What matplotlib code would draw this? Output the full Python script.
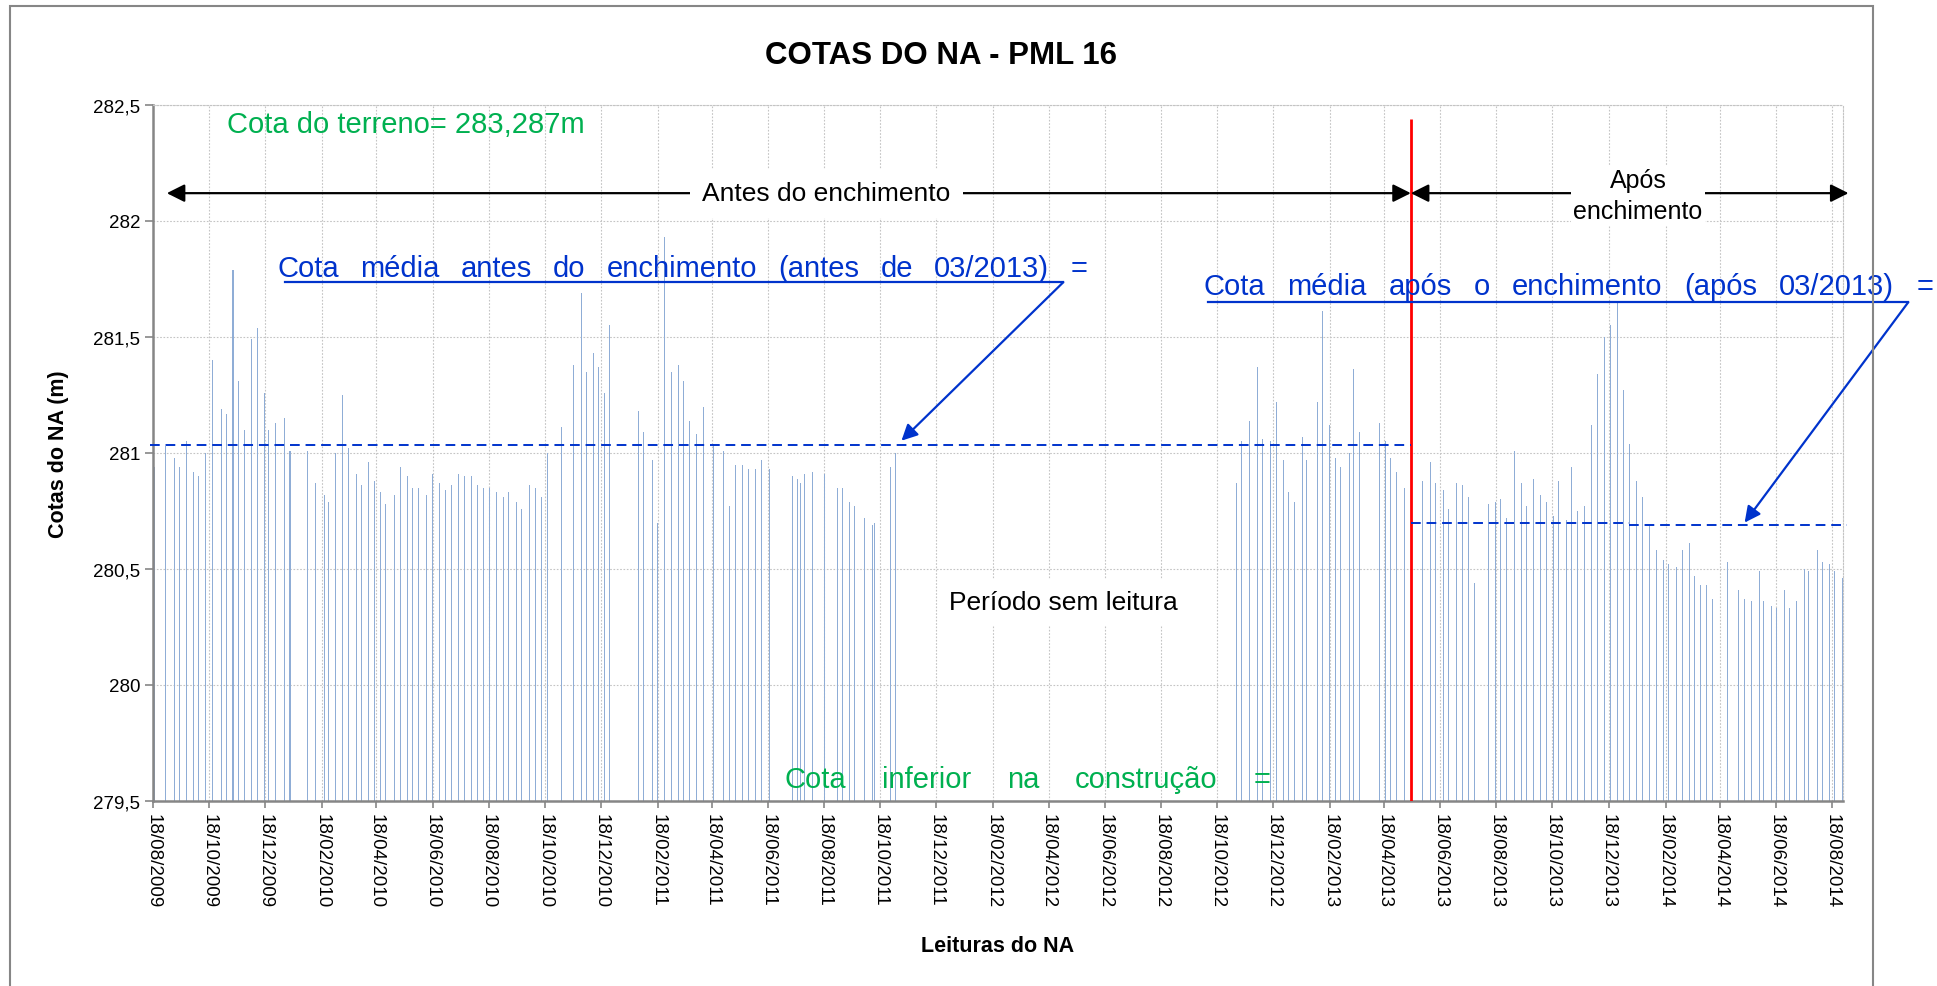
import matplotlib
matplotlib.use("Agg")
import matplotlib.pyplot as plt
import matplotlib.dates as mdates
from matplotlib.patches import Rectangle
import numpy as np
import pandas as pd

plt.rcParams['font.family'] = ['Liberation Sans', 'DejaVu Sans']

# leituras antes do enchimento (2009 - 2011)
datas_antes = [
    '2009-08-20', '2009-09-01', '2009-09-10', '2009-09-16', '2009-09-23', '2009-10-01',
    '2009-10-07', '2009-10-14', '2009-10-22', '2009-10-31', '2009-11-06', '2009-11-13',
    '2009-11-19', '2009-11-26', '2009-12-03', '2009-12-10', '2009-12-17', '2009-12-22',
    '2009-12-29', '2010-01-08', '2010-01-14', '2010-02-02', '2010-02-11', '2010-02-21',
    '2010-02-25', '2010-03-05', '2010-03-12', '2010-03-19', '2010-03-27', '2010-04-02',
    '2010-04-09', '2010-04-16', '2010-04-22', '2010-04-28', '2010-05-08', '2010-05-14',
    '2010-05-22', '2010-05-27', '2010-06-03', '2010-06-11', '2010-06-18', '2010-06-26',
    '2010-07-02', '2010-07-09', '2010-07-16', '2010-07-23', '2010-07-30', '2010-08-06',
    '2010-08-12', '2010-08-19', '2010-08-27', '2010-09-03', '2010-09-09', '2010-09-17',
    '2010-09-23', '2010-10-01', '2010-10-08', '2010-10-15', '2010-10-21', '2010-11-05',
    '2010-11-18', '2010-11-27', '2010-12-02', '2010-12-10', '2010-12-16', '2010-12-22',
    '2010-12-28', '2011-01-28', '2011-02-02', '2011-02-12', '2011-02-18', '2011-02-25',
    '2011-03-05', '2011-03-12', '2011-03-18', '2011-03-25', '2011-04-01', '2011-04-09',
    '2011-04-20', '2011-04-30', '2011-05-07', '2011-05-14', '2011-05-21', '2011-05-28',
    '2011-06-04', '2011-06-11', '2011-06-20', '2011-07-14', '2011-07-20', '2011-07-23',
    '2011-07-28', '2011-08-05', '2011-08-18', '2011-09-01', '2011-09-07', '2011-09-15',
    '2011-09-20', '2011-10-01', '2011-10-09', '2011-10-12', '2011-10-29', '2011-11-03',
]
cotas_antes = [
    280.94, 281.03, 280.98, 280.94, 281.05, 280.92,
    280.90, 281.00, 281.40, 281.19, 281.17, 281.79,
    281.31, 281.10, 281.49, 281.54, 281.26, 281.10,
    281.13, 281.15, 281.01, 281.01, 280.87, 280.82,
    280.79, 281.00, 281.25, 281.02, 280.91, 280.86,
    280.96, 280.88, 280.83, 280.78, 280.82, 280.94,
    280.90, 280.85, 280.85, 280.82, 280.91, 280.87,
    280.84, 280.86, 280.91, 280.90, 280.90, 280.86,
    280.85, 280.85, 280.83, 280.81, 280.83, 280.79,
    280.76, 280.86, 280.85, 280.81, 281.00, 281.11,
    281.38, 281.69, 281.35, 281.43, 281.37, 281.26,
    281.55, 281.18, 281.09, 280.97, 280.70, 281.93,
    281.35, 281.38, 281.31, 281.14, 281.08, 281.20,
    281.04, 281.01, 280.77, 280.95, 280.95, 280.93,
    280.93, 280.97, 280.93, 280.90, 280.89, 280.87,
    280.91, 280.92, 280.91, 280.85, 280.85, 280.79,
    280.77, 280.72, 280.69, 280.70, 280.94, 281.00,
]

# leituras a partir de 11/2012
datas_depois = [
    '2012-11-08', '2012-11-14', '2012-11-23', '2012-12-01', '2012-12-07', '2012-12-15',
    '2012-12-22', '2012-12-29', '2013-01-04', '2013-01-10', '2013-01-19', '2013-01-24',
    '2013-02-04', '2013-02-10', '2013-02-18', '2013-02-24', '2013-03-02', '2013-03-11',
    '2013-03-16', '2013-03-22', '2013-04-13', '2013-04-19', '2013-04-25', '2013-05-01',
    '2013-05-10', '2013-05-30', '2013-06-07', '2013-06-13', '2013-06-22', '2013-06-27',
    '2013-07-06', '2013-07-12', '2013-07-19', '2013-07-25', '2013-08-09', '2013-08-17',
    '2013-08-23', '2013-08-29', '2013-09-07', '2013-09-14', '2013-09-20', '2013-09-27',
    '2013-10-05', '2013-10-11', '2013-10-19', '2013-10-25', '2013-11-02', '2013-11-08',
    '2013-11-14', '2013-11-22', '2013-11-29', '2013-12-06', '2013-12-14', '2013-12-20',
    '2013-12-28', '2014-01-03', '2014-01-10', '2014-01-17', '2014-01-24', '2014-02-01',
    '2014-02-08', '2014-02-16', '2014-02-21', '2014-03-02', '2014-03-08', '2014-03-16',
    '2014-03-21', '2014-03-28', '2014-04-04', '2014-04-10', '2014-04-26', '2014-05-08',
    '2014-05-15', '2014-05-22', '2014-05-31', '2014-06-05', '2014-06-13', '2014-06-19',
    '2014-06-27', '2014-07-03', '2014-07-10', '2014-07-19', '2014-07-24', '2014-08-02',
    '2014-08-08', '2014-08-15', '2014-08-21', '2014-08-29',
]
cotas_depois = [
    280.87, 281.05, 281.14, 281.37, 281.06, 281.05,
    281.22, 280.97, 280.83, 280.79, 281.07, 280.97,
    281.22, 281.61, 281.12, 280.98, 280.94, 281.00,
    281.36, 281.09, 281.13, 281.05, 280.98, 280.92,
    280.85, 280.88, 280.96, 280.87, 280.84, 280.76,
    280.87, 280.86, 280.81, 280.44, 280.78, 280.79,
    280.80, 280.72, 281.01, 280.87, 280.77, 280.89,
    280.82, 280.79, 280.73, 280.88, 280.71, 280.94,
    280.75, 280.77, 281.12, 281.34, 281.50, 281.55,
    281.65, 281.27, 281.04, 280.88, 280.81, 280.69,
    280.58, 280.54, 280.52, 280.51, 280.58, 280.61,
    280.47, 280.43, 280.43, 280.37, 280.53, 280.41,
    280.37, 280.36, 280.49, 280.36, 280.34, 280.33,
    280.41, 280.33, 280.36, 280.50, 280.49, 280.58,
    280.53, 280.52, 280.49, 280.46,
]

data_enchimento = '2013-05-17'
media_antes = 281.035
media_apos = [280.70, 280.69]
y_base = 279.5
y_topo = 282.5
y_ticks = [279.5, 280, 280.5, 281, 281.5, 282, 282.5]
y_ticklabels = ['279,5', '280', '280,5', '281', '281,5', '282', '282,5']
x_ticks = pd.date_range('2009-08-18', '2014-08-18', freq=pd.DateOffset(months=2))
x_ticklabels = [t.strftime('%d/%m/%Y') for t in x_ticks]

AZUL = '#0033CC'
VERDE = '#00B050'
CINZA = '#868686'


def d(s):
    return mdates.date2num(pd.Timestamp(s))


def justify(ax, words, x0, x1, y, **kw):
    # distribui as palavras entre x0 e x1 (texto justificado)
    r = ax.figure.canvas.get_renderer()
    px0 = ax.transData.transform((d(x0), y))[0]
    px1 = ax.transData.transform((d(x1), y))[0]
    texts = [ax.text(d(x0), y, w, ha='left', clip_on=False, **kw) for w in words]
    widths = [t.get_window_extent(r).width for t in texts]
    gap = (px1 - px0 - sum(widths)) / (len(words) - 1)
    pos = px0
    inv = ax.transData.inverted()
    for t, w in zip(texts, widths):
        t.set_x(inv.transform((pos, y))[0])
        pos += w + gap


fig = plt.figure(figsize=(19.37, 9.87), dpi=100)
ax = fig.add_axes([153 / 1937, 1 - 802 / 987, 1690 / 1937, 696 / 987])

datas = pd.to_datetime(datas_antes + datas_depois)
cotas = np.array(cotas_antes + cotas_depois)
ax.bar(datas, cotas - y_base, bottom=y_base, width=1.1, color='#8FADD6',
       linewidth=0, zorder=2)

ax.set_xlim(pd.Timestamp('2009-08-18'), pd.Timestamp('2014-08-30'))
ax.set_ylim(y_base, y_topo)

ax.set_yticks(y_ticks)
ax.set_yticklabels(y_ticklabels)
ax.set_xticks(x_ticks)
ax.set_xticklabels(x_ticklabels, rotation=-90, ha='center', va='top')
ax.tick_params(axis='y', direction='out', length=6, width=1.2, color=CINZA,
               labelsize=13.5, pad=3)
ax.tick_params(axis='x', direction='out', length=5, width=1.2, color=CINZA,
               labelsize=13.5, pad=4)

ax.grid(True, color='#C4C4C4', linestyle=(0, (1.5, 1.5)), linewidth=0.8)
ax.set_axisbelow(True)
for s in ('left', 'bottom'):
    ax.spines[s].set_color(CINZA)
    ax.spines[s].set_linewidth(1.8)
for s in ('top', 'right'):
    ax.spines[s].set_color('#C4C4C4')
    ax.spines[s].set_linestyle((0, (1.5, 1.5)))
    ax.spines[s].set_linewidth(0.8)

ax.set_ylabel('Cotas do NA (m)', fontsize=15.5, fontweight='bold', va='center')
ax.yaxis.set_label_coords(-0.0562, 0.5)
ax.set_xlabel('Leituras do NA', fontsize=15.5, fontweight='bold', va='center')
ax.xaxis.set_label_coords(0.5, -0.207)

fig.text(941 / 1937, 1 - 56 / 987, 'COTAS DO NA - PML 16', ha='center', va='center',
         fontsize=22.5, fontweight='bold')

# borda da area do grafico
fig.add_artist(Rectangle((10 / 1937, -0.02), 1863 / 1937, 1.02 - 7 / 987,
                         transform=fig.transFigure, fill=False, edgecolor=CINZA, lw=1.5))

# linha do enchimento e medias
ax.vlines(d(data_enchimento), y_base, 282.44, color='red', lw=2, zorder=4)
ax.plot([d('2009-08-15'), d(data_enchimento)], [media_antes, media_antes], color=AZUL,
        lw=1.4, ls=(0, (5, 3)), zorder=4, clip_on=False)
ax.plot([d(data_enchimento), d('2014-01-09')], [media_apos[0], media_apos[0]], color=AZUL,
        lw=1.4, ls=(0, (5, 3)), zorder=4)
ax.plot([d('2014-01-09'), d('2014-09-03')], [media_apos[1], media_apos[1]], color=AZUL,
        lw=1.4, ls=(0, (5, 3)), zorder=4, clip_on=False)

# setas antes / apos
seta = dict(arrowstyle='<|-|>,head_length=0.4,head_width=0.2', color='black', lw=1.6,
            mutation_scale=27, shrinkA=0, shrinkB=0)
ax.annotate('', xy=(d('2009-09-02'), 282.12), xytext=(d(data_enchimento), 282.12),
            arrowprops=seta, annotation_clip=False, zorder=4)
ax.annotate('', xy=(d(data_enchimento), 282.12), xytext=(d('2014-09-05'), 282.12),
            arrowprops=seta, annotation_clip=False, zorder=4)
ax.text(d('2011-08-20'), 282.12, 'Antes do enchimento', ha='center', va='center',
        fontsize=19, zorder=5, bbox=dict(facecolor='white', edgecolor='none', pad=9))
ax.text(d('2014-01-19'), 282.11, 'Após\nenchimento', ha='center', va='center',
        fontsize=18, linespacing=1.35, zorder=5,
        bbox=dict(facecolor='white', edgecolor='none', pad=2))

ax.text(d('2009-11-06'), 282.42, 'Cota do terreno= 283,287m', ha='left', va='center',
        fontsize=21, color=VERDE, zorder=5)

# media antes
justify(ax, 'Cota média antes do enchimento (antes de 03/2013) ='.split(),
        '2009-12-31', '2012-05-30', 281.763, fontsize=21, color=AZUL, va='baseline', zorder=5)
ax.plot([d('2010-01-09'), d('2012-05-04')], [281.736, 281.736], color=AZUL, lw=1.6, zorder=5)
ax.annotate('', xy=(d('2011-11-10'), 281.053), xytext=(d('2012-05-04'), 281.736),
            arrowprops=dict(arrowstyle='-|>,head_length=0.4,head_width=0.2', color=AZUL,
                            lw=1.6, mutation_scale=24, shrinkA=0, shrinkB=0), zorder=5)

# media apos
justify(ax, 'Cota média após o enchimento (após 03/2013) ='.split(),
        '2012-10-04', '2014-12-06', 281.685, fontsize=21, color=AZUL, va='baseline', zorder=5)
ax.plot([d('2012-10-08'), d('2014-11-09')], [281.65, 281.65], color=AZUL, lw=1.6,
        zorder=5, clip_on=False)
ax.annotate('', xy=(d('2014-05-15'), 280.70), xytext=(d('2014-11-09'), 281.65),
            arrowprops=dict(arrowstyle='-|>,head_length=0.4,head_width=0.2', color=AZUL,
                            lw=1.6, mutation_scale=24, shrinkA=0, shrinkB=0),
            annotation_clip=False, zorder=5)

ax.text(d('2012-05-04'), 280.358, 'Período sem leitura', ha='center', va='center',
        fontsize=19, zorder=5, bbox=dict(facecolor='white', edgecolor='none', pad=8))

justify(ax, 'Cota inferior na construção ='.split(), '2011-07-06', '2012-12-15', 279.595,
        fontsize=21, color=VERDE, va='center', zorder=5)

fig.savefig('out.png', dpi=100)
